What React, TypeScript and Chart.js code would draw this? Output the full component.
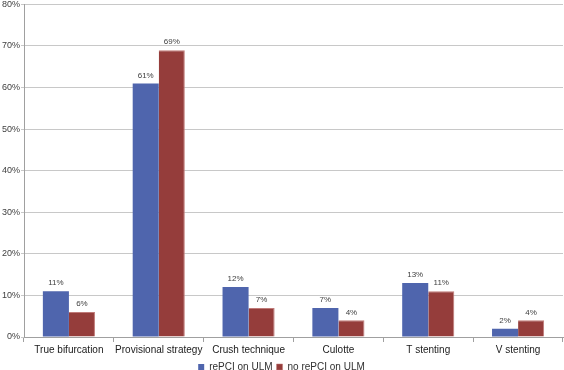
import React, { useEffect, useRef } from "react";
import { Chart, registerables } from "chart.js";

Chart.register(...registerables);

const categories = ["True bifurcation", "Provisional strategy", "Crush technique", "Culotte", "T stenting", "V stenting"];
const rePCI = [11, 61, 12, 7, 13, 2];
const noRePCI = [6, 69, 7, 4, 11, 4];
const seriesNames = ["rePCI on ULM", "no rePCI on ULM"];
const yTicks = [0, 10, 20, 30, 40, 50, 60, 70, 80];

const labelPlugin = {
  id: "barLabels",
  afterDatasetsDraw(chart: any) {
    const ctx = chart.ctx;
    ctx.save();
    ctx.font = "8px 'Liberation Sans', Arial, sans-serif";
    ctx.fillStyle = "#404040";
    ctx.textAlign = "center";
    ctx.textBaseline = "bottom";
    chart.data.datasets.forEach((ds: any, i: number) => {
      const meta = chart.getDatasetMeta(i);
      meta.data.forEach((bar: any, j: number) => {
        ctx.fillText(ds.data[j] + "%", bar.x, bar.y - 4);
      });
    });
    ctx.restore();
  },
};

export default function App() {
  const ref = useRef<HTMLCanvasElement>(null);
  useEffect(() => {
    document.body.style.margin = "0";
    const chart = new Chart(ref.current!, {
      type: "bar",
      data: {
        labels: categories,
        datasets: [
          { label: seriesNames[0], data: rePCI, backgroundColor: "#4f65ad", borderWidth: 0 },
          { label: seriesNames[1], data: noRePCI, backgroundColor: "#953d3b", borderColor: "#c07a78", borderWidth: { top: 1, right: 1, left: 0, bottom: 0 } as any },
        ],
      },
      options: {
        responsive: false,
        animation: false,
        devicePixelRatio: 1,
        layout: { padding: { top: 0, right: 1, left: 0, bottom: -12 } },
        datasets: { bar: { categoryPercentage: 0.58, barPercentage: 1 } },
        plugins: {
          legend: {
            position: "bottom",
            labels: {
              boxWidth: 6,
              boxHeight: 6,
              padding: 4,
              color: "#303030",
              font: { size: 10, family: "'Liberation Sans', Arial, sans-serif" },
            },
          },
          tooltip: { enabled: false },
        },
        scales: {
          x: {
            grid: { display: true, drawOnChartArea: false, offset: true, tickLength: 5, color: "#a0a0a0" },
            border: { color: "#a0a0a0" },
            ticks: { color: "#202020", font: { size: 10, family: "'Liberation Sans', Arial, sans-serif" }, padding: 2, maxRotation: 0, autoSkip: false },
          },
          y: {
            min: 0,
            max: 80,
            afterBuildTicks: (axis: any) => {
              axis.ticks = yTicks.map((v) => ({ value: v }));
            },
            afterFit: (axis: any) => {
              axis.width = 24;
            },
            grid: { color: "#c8c8c8", tickLength: 3 },
            border: { color: "#a0a0a0" },
            ticks: {
              color: "#404040",
              font: { size: 9, family: "'Liberation Sans', Arial, sans-serif" },
              padding: 1,
              callback: (v: any) => v + "%",
            },
          },
        },
      },
      plugins: [labelPlugin],
    });
    return () => chart.destroy();
  }, []);
  return <canvas ref={ref} width={564} height={372} style={{ display: "block", marginTop: -2 }} />;
}
